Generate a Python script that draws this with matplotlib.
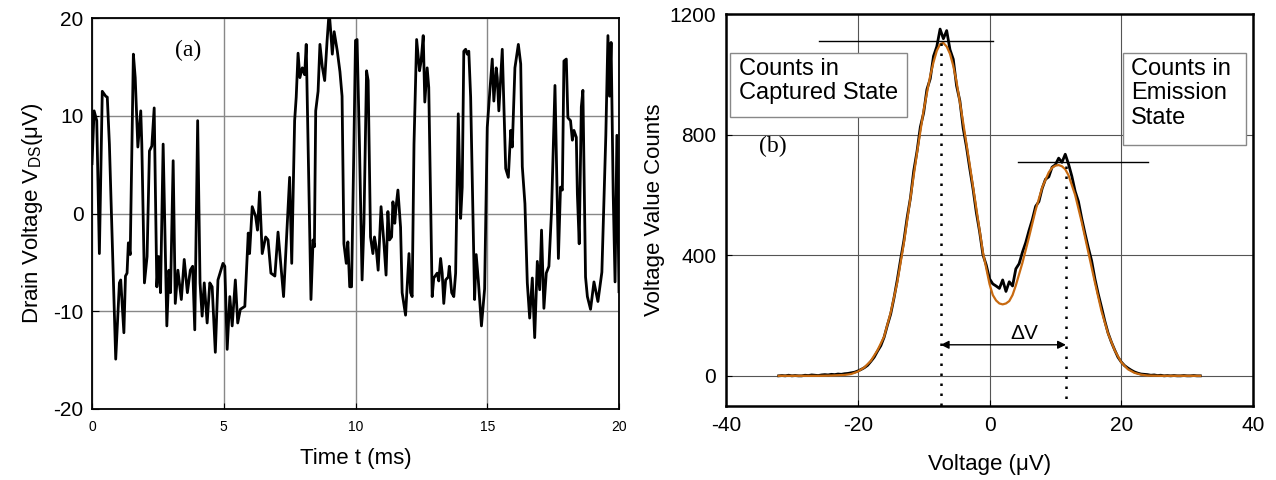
import numpy as np
import matplotlib
matplotlib.use("Agg")
import matplotlib.pyplot as plt
from matplotlib.patches import Rectangle

plt.rcParams['font.family'] = ['Liberation Sans', 'DejaVu Sans']
plt.rcParams['mathtext.fontset'] = 'custom'
plt.rcParams['mathtext.rm'] = 'Liberation Sans'
plt.rcParams['mathtext.it'] = 'Liberation Sans:italic'

# ---------------- Panel (a): time trace ----------------
time_ms = [
    0.00, 0.08, 0.18, 0.28, 0.39, 0.52, 0.58, 0.66, 0.90, 1.04,
    1.09, 1.21, 1.27, 1.33, 1.38, 1.45, 1.57, 1.64, 1.74, 1.85,
    1.89, 1.99, 2.09, 2.18, 2.27, 2.36, 2.46, 2.53, 2.60, 2.70,
    2.84, 2.92, 2.98, 3.08, 3.16, 3.26, 3.39, 3.50, 3.62, 3.73,
    3.82, 3.90, 4.01, 4.10, 4.18, 4.26, 4.37, 4.47, 4.56, 4.68,
    4.78, 4.97, 5.04, 5.13, 5.23, 5.32, 5.44, 5.53, 5.63, 5.80,
    5.93, 5.98, 6.08, 6.21, 6.28, 6.36, 6.46, 6.59, 6.68, 6.79,
    6.94, 7.06, 7.27, 7.32, 7.50, 7.58, 7.69, 7.75, 7.82, 7.89,
    7.98, 8.07, 8.13, 8.31, 8.39, 8.44, 8.49, 8.58, 8.65, 8.74,
    8.83, 8.92, 9.00, 9.06, 9.12, 9.19, 9.31, 9.41, 9.49, 9.56,
    9.65, 9.71, 9.78, 9.85, 9.94, 10.00, 10.06, 10.15, 10.25, 10.32,
    10.42, 10.48, 10.57, 10.66, 10.72, 10.78, 10.86, 10.97, 11.08, 11.16,
    11.23, 11.29, 11.37, 11.42, 11.49, 11.54, 11.61, 11.71, 11.77, 11.90,
    12.03, 12.09, 12.15, 12.22, 12.32, 12.43, 12.49, 12.57, 12.63, 12.72,
    12.78, 12.91, 12.97, 13.10, 13.16, 13.23, 13.29, 13.35, 13.42, 13.52,
    13.56, 13.65, 13.73, 13.80, 13.90, 13.99, 14.05, 14.11, 14.18, 14.24,
    14.30, 14.37, 14.52, 14.58, 14.66, 14.78, 14.90, 15.00, 15.10, 15.19,
    15.25, 15.34, 15.38, 15.44, 15.57, 15.63, 15.70, 15.80, 15.89, 15.95,
    16.05, 16.18, 16.27, 16.33, 16.43, 16.52, 16.61, 16.71, 16.80, 16.90,
    16.99, 17.06, 17.15, 17.24, 17.34, 17.44, 17.57, 17.70, 17.78, 17.85,
    17.91, 18.00, 18.06, 18.16, 18.23, 18.29, 18.38, 18.42, 18.49, 18.57,
    18.63, 18.73, 18.80, 18.92, 19.05, 19.20, 19.35, 19.50, 19.58, 19.64,
    19.70, 19.78, 19.85, 19.92, 20.00,
]
drain_uV = [
    5.1, 10.5, 9.5, -4.1, 12.5, 12.0, 11.9, 7.1, -14.9, -7.1,
    -6.8, -12.2, -6.4, -6.1, -3.0, -4.2, 16.3, 13.9, 6.8, 10.5,
    7.1, -7.1, -4.4, 6.4, 6.9, 10.8, -7.5, -4.4, -8.1, 7.1,
    -11.5, -5.8, -8.1, 5.4, -9.2, -5.8, -8.8, -4.7, -8.1, -5.8,
    -5.4, -11.9, 9.5, -7.1, -10.5, -7.1, -11.2, -7.1, -7.5, -14.2,
    -6.8, -5.1, -5.4, -13.9, -8.5, -11.5, -6.8, -11.2, -9.8, -9.5,
    -2.0, -4.1, 0.7, -0.3, -1.7, 2.2, -4.1, -2.4, -2.7, -6.1,
    -6.4, -1.9, -8.5, -5.8, 3.7, -5.1, 9.5, 11.9, 16.4, 13.9,
    14.9, 14.2, 17.3, -8.8, -2.7, -3.4, 10.5, 12.5, 17.3, 15.0,
    13.6, 17.6, 20.7, 18.6, 16.3, 18.6, 16.6, 14.5, 12.0, -3.1,
    -5.1, -2.9, -7.5, -7.5, 7.1, 17.7, 17.8, 7.1, -6.8, -1.0,
    14.6, 13.6, -2.4, -4.1, -2.4, -3.4, -5.8, 0.7, -3.1, -6.3,
    0.2, -2.7, -2.4, 1.2, -1.0, 0.7, 2.4, -1.4, -8.1, -10.4,
    -4.1, -8.1, -8.5, 7.1, 17.8, 14.6, 15.6, 18.2, 11.4, 14.9,
    12.9, -8.5, -6.6, -6.1, -6.9, -4.6, -6.1, -9.2, -6.8, -6.5,
    -5.4, -8.1, -8.5, -6.1, 10.2, -0.5, 2.7, 16.6, 16.8, 16.3,
    16.6, 11.9, -8.8, -4.2, -6.8, -11.5, -7.7, 8.8, 12.6, 15.8,
    11.5, 14.9, 13.9, 10.5, 16.8, 11.2, 4.6, 3.7, 8.5, 6.8,
    14.9, 17.3, 15.3, 4.8, 1.0, -7.1, -10.7, -6.6, -12.7, -4.9,
    -7.8, -1.7, -9.7, -6.1, -5.4, 0.3, 13.1, -4.6, 2.7, 2.4,
    15.6, 15.8, 9.8, 9.5, 7.5, 8.5, 7.8, 2.0, -3.1, 10.9,
    12.6, -6.5, -8.5, -9.8, -7.0, -9.0, -6.0, 8.0, 18.2, 12.0,
    17.5, 2.0, -7.0, 8.0, -8.0,
]

# ---------------- Panel (b): histogram ----------------
hist_voltage = np.arange(-32, 32.01, 0.5)
hist_counts = [
    0, 1, 0, 2, 0, 1, 0, 0, 2, 1, 3, 2, 1, 3, 4, 3, 5, 4, 6, 5, 7,
    8, 10, 12, 16, 21, 27, 35, 48, 62, 82,
    100, 128, 168, 205, 258, 318, 385, 448, 525, 590,
    680, 745, 825, 872, 950, 985, 1060, 1092, 1150, 1118,
    1145, 1082, 1050, 962, 912, 822, 760, 688, 620, 542,
    478, 402, 368, 322, 305, 298, 290, 318, 280, 312,
    298, 355, 372, 410, 442, 482, 518, 562, 578, 622,
    652, 660, 692, 700, 722, 708, 735, 702, 662, 612,
    578, 522, 472, 425, 382, 322, 272, 228, 182, 142,
    112, 86, 62, 46, 34, 26, 19, 13, 9, 6,
    5, 4, 2, 3, 1, 2, 0, 1, 0, 1,
    0, 0, 1, 0, 0, 1, 0, 0,
]
fit_voltage = [-32, -30, -28, -26, -24, -23, -22, -21, -20, -19,
               -18, -17, -16, -15, -14, -13, -12, -11, -10, -9,
               -8.5, -8, -7.5, -7, -6.5, -6, -5.5, -5, -4, -3,
               -2, -1, 0, 0.5, 1, 1.5, 2, 2.5, 3, 3.5,
               4, 5, 6, 7, 8, 9, 9.5, 10, 10.5, 11,
               11.5, 12, 13, 14, 15, 16, 17, 18, 19, 20,
               21, 22, 23, 24, 26, 28, 30, 32]
fit_counts = [0, 0, 0, 0, 1, 2, 3, 6, 14, 28,
              50, 85, 130, 210, 310, 440, 590, 740, 880, 995,
              1040, 1078, 1100, 1104, 1092, 1068, 1028, 975, 840, 700,
              555, 410, 305, 268, 250, 240, 237, 240, 248, 268,
              300, 375, 460, 550, 625, 675, 690, 697, 699, 695,
              685, 665, 600, 510, 410, 310, 215, 140, 85, 45,
              22, 10, 4, 1, 0, 0, 0, 0]

peak_captured_v = -7.4
peak_captured_c = 1104
peak_emission_v = 11.6
peak_emission_c = 695

W, H = 1276, 480
fig = plt.figure(figsize=(W / 100, H / 100), dpi=100)


def px_axes(x0, y0, x1, y1):
    return fig.add_axes([x0 / W, 1 - y1 / H, (x1 - x0) / W, (y1 - y0) / H])


# ---- left panel ----
ax1 = px_axes(92, 18, 619, 409)
ax1.plot(time_ms, drain_uV, color='black', lw=2.0, solid_joinstyle='round')
ax1.set_xlim(0, 20)
ax1.set_ylim(-20, 20)
ax1.set_xticks([0, 5, 10, 15, 20])
ax1.set_yticks([-20, -10, 0, 10, 20])
ax1.set_yticklabels(['-20', '-10', '0', '10', '20'])
ax1.grid(True, color='#888888', lw=1.0)
ax1.tick_params(axis='x', labelsize=10, direction='in', length=4, pad=8)
ax1.tick_params(axis='y', labelsize=15, direction='in', length=5, pad=6)
for s in ax1.spines.values():
    s.set_linewidth(1.3)
ax1.set_xlabel('Time t (ms)', fontsize=16, labelpad=10)
ax1.set_ylabel('Drain Voltage V$_{\\mathrm{DS}}$(\u03bcV)', fontsize=16, labelpad=6)
ax1.text(3.64, 16.7, '(a)', fontsize=17, family=['Liberation Serif', 'DejaVu Serif'],
         ha='center', va='center')

# ---- right panel ----
ax2 = px_axes(726, 14, 1253, 406)
ax2.plot(hist_voltage, hist_counts, color='black', lw=2.0, zorder=3)
ax2.plot(fit_voltage, fit_counts, color='#C86A10', lw=1.6, zorder=4)
ax2.set_xlim(-40, 40)
ax2.set_ylim(-100, 1200)
ax2.set_xticks([-40, -20, 0, 20, 40])
ax2.set_xticklabels(['-40', '-20', '0', '20', '40'])
ax2.set_yticks([0, 400, 800, 1200])
ax2.grid(True, color='#555555', lw=0.8)
ax2.tick_params(labelsize=15, direction='in', length=4, pad=7)
for s in ax2.spines.values():
    s.set_linewidth(1.8)
ax2.set_xlabel('Voltage (\u03bcV)', fontsize=16, labelpad=14)
ax2.set_ylabel('Voltage Value Counts', fontsize=16, labelpad=3)

# dotted peak markers
ax2.plot([peak_captured_v, peak_captured_v], [peak_captured_c, -100], color='black',
         lw=1.8, linestyle=(0, (1, 3)), zorder=5)
ax2.plot([peak_emission_v, peak_emission_v], [peak_emission_c, -100], color='black',
         lw=1.8, linestyle=(0, (1, 3)), zorder=5)
# horizontal peak lines
ax2.plot([-25.9, 0.6], [1112, 1112], color='black', lw=1.0, zorder=5)
ax2.plot([4.4, 24.0], [708, 708], color='black', lw=1.0, zorder=5)
# delta V arrow
ax2.annotate('', xy=(peak_emission_v, 103), xytext=(peak_captured_v, 103),
             arrowprops=dict(arrowstyle='<|-|>', color='black', lw=1.0,
                             mutation_scale=12, shrinkA=0, shrinkB=0), zorder=6)
ax2.text(5.3, 140, '\u0394V', fontsize=15, ha='center', va='center')
ax2.text(-32.9, 760, '(b)', fontsize=17, family=['Liberation Serif', 'DejaVu Serif'],
         ha='center', va='center')

# annotation boxes
ax2.add_patch(Rectangle((0.0076, 0.737), 0.3359, 0.1635, transform=ax2.transAxes,
                        facecolor='white', edgecolor='#888888', lw=1.0, zorder=7))
ax2.add_patch(Rectangle((0.753, 0.666), 0.234, 0.2345, transform=ax2.transAxes,
                        facecolor='white', edgecolor='#888888', lw=1.0, zorder=7))
ax2.text(0.025, 0.888, 'Counts in\nCaptured State', transform=ax2.transAxes,
         fontsize=17, ha='left', va='top', zorder=8, linespacing=1.15)
ax2.text(0.769, 0.888, 'Counts in\nEmission\nState', transform=ax2.transAxes,
         fontsize=17, ha='left', va='top', zorder=8, linespacing=1.15)

fig.savefig('out.png', dpi=100)
